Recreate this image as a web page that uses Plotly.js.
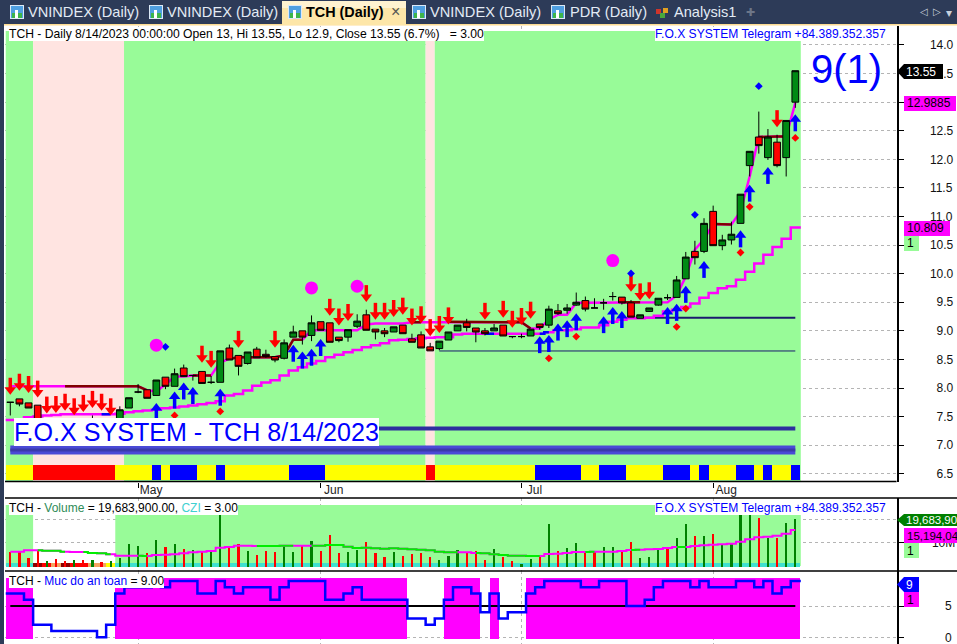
<!DOCTYPE html>
<html><head><meta charset="utf-8">
<script src="https://cdn.plot.ly/plotly-3.0.1.min.js"></script>
<style>html,body{margin:0;padding:0;background:#fff;overflow:hidden}#c{width:957px;height:644px}</style>
</head><body><div id="c"></div>
<script>
// ---------- data ----------
const monthTicks = [14, 34, 56, 77];
const monthLabels = ['May', 'Jun', 'Jul', 'Aug'];
const open = [7.75,7.81,7.74,7.70,7.42,7.40,7.38,7.40,7.42,7.44,7.42,7.40,7.42,7.65,7.93,7.97,7.87,8.19,8.03,8.35,8.22,8.29,8.10,8.10,8.70,8.57,8.43,8.68,8.59,8.55,8.52,8.89,9.00,8.92,9.16,9.14,8.89,8.89,9.08,9.28,9.03,9.00,8.98,9.10,8.86,8.93,8.72,8.69,8.84,9.00,9.14,9.05,9.00,9.00,9.10,8.90,8.90,8.91,9.12,9.10,9.35,9.36,9.45,9.53,9.40,9.49,9.60,9.59,9.49,9.22,9.34,9.45,9.58,9.585,9.91,10.39,10.39,11.09,10.49,10.59,10.88,11.89,12.39,12.03,12.30,12.03,13.0];
const high = [7.75,7.81,7.74,7.70,7.46,7.45,7.44,7.46,7.47,7.52,7.46,7.44,7.68,7.83,8.07,7.97,8.14,8.19,8.34,8.41,8.22,8.29,8.21,8.65,8.76,8.57,8.63,8.72,8.67,8.55,8.85,9.09,9.00,9.27,9.16,9.14,8.89,9.02,9.29,9.37,9.03,9.05,9.07,9.10,8.95,8.99,8.79,8.82,8.98,9.10,9.21,9.05,9.05,9.12,9.10,8.90,8.95,9.03,9.12,9.44,9.47,9.47,9.67,9.60,9.57,9.56,9.68,9.59,9.54,9.28,9.40,9.57,9.64,9.96,10.38,10.575,10.97,11.19,10.68,10.91,11.39,12.14,12.835,12.53,12.43,12.68,13.55];
const low = [7.52,7.68,7.65,7.38,7.30,7.32,7.30,7.32,7.34,7.36,7.33,7.34,7.40,7.65,7.91,7.82,7.87,7.98,8.03,8.20,8.13,8.08,8.07,8.10,8.49,8.22,8.41,8.53,8.53,8.45,8.50,8.89,8.76,8.82,9.01,8.80,8.80,8.81,9.05,9.01,8.85,8.89,8.98,8.95,8.80,8.70,8.65,8.66,8.84,9.00,8.99,8.80,8.92,9.00,8.91,8.87,8.87,8.91,9.02,9.05,9.28,9.30,9.44,9.34,9.40,9.37,9.53,9.46,9.24,9.22,9.33,9.44,9.54,9.585,9.91,10.16,10.36,10.49,10.41,10.51,10.88,11.70,12.10,11.99,11.86,11.70,12.9];
const close = [7.75,7.72,7.65,7.42,7.35,7.36,7.34,7.36,7.38,7.40,7.36,7.38,7.62,7.83,7.93,7.82,8.14,8.03,8.25,8.20,8.22,8.08,8.10,8.65,8.49,8.38,8.63,8.53,8.55,8.49,8.79,8.98,8.89,9.14,9.01,8.80,8.83,9.02,9.17,9.01,8.98,8.95,9.07,8.95,8.80,8.70,8.65,8.82,8.98,9.10,9.06,8.98,8.95,9.05,8.91,8.90,8.90,9.03,9.06,9.38,9.30,9.40,9.50,9.38,9.40,9.49,9.60,9.49,9.24,9.28,9.40,9.57,9.58,9.89,10.29,10.28,10.88,10.49,10.59,10.69,11.39,12.14,12.24,12.39,11.89,12.68,13.55];
const upperLine = [8.03,8.03,8.03,8.03,8.03,8.03,8.03,8.03,8.03,8.03,8.03,8.03,8.03,8.03,8.03,7.96,7.94,8.06,8.20,8.20,8.22,8.22,8.22,8.45,8.51,8.54,8.54,8.54,8.54,8.54,8.57,8.846,8.846,9.01,9.01,9.01,9.01,9.01,9.01,9.11,9.13,9.13,9.13,9.13,9.15,9.15,9.16,9.16,9.16,9.16,9.16,9.16,9.16,9.16,9.16,9.16,9.15,9.04,9.04,9.2,9.28,9.28,9.49,9.49,9.49,9.49,9.49,9.50,9.50,9.50,9.50,9.50,9.50,9.62,9.95,10.42,10.6,10.87,10.86,10.86,11.09,11.70,12.39,12.40,12.40,12.40,12.9885];
const upperBrown = [[6,15],[20,22],[24,30],[31,32],[44,45],[48,57],[67,69],[77,79],[82,85]];
const lowerLine = [7.44,7.44,7.49,7.50,7.52,7.53,7.54,7.54,7.54,7.54,7.54,7.54,7.55,7.577,7.594,7.606,7.62,7.646,7.658,7.676,7.693,7.716,7.74,7.77,7.87,7.897,7.955,8.04,8.095,8.136,8.217,8.305,8.363,8.427,8.474,8.54,8.58,8.625,8.666,8.712,8.747,8.782,8.835,8.846,8.858,8.87,8.88,8.887,8.887,8.934,8.951,8.951,8.951,8.951,8.951,8.951,8.951,8.951,8.951,8.974,9.01,9.01,9.027,9.06,9.06,9.097,9.16,9.196,9.219,9.22,9.23,9.265,9.34,9.37,9.417,9.48,9.58,9.66,9.743,9.778,9.894,10.034,10.18,10.33,10.465,10.61,10.809];
const lowerBlue = [[10,11],[52,53],[58,59]];
const sellIdx = [0,1,2,3,4,5,6,7,8,9,10,11,21,22,25,29,35,36,37,39,40,41,42,43,44,45,46,47,48,52,54,55,56,57,68,69,70,84];
const sellVal = [7.97,8.04,8.00,7.92,7.64,7.65,7.69,7.61,7.67,7.74,7.69,7.61,8.53,8.44,8.79,8.79,9.35,9.18,9.26,9.59,9.28,9.28,9.33,9.37,9.18,9.22,8.995,9.05,9.20,9.28,9.315,9.14,9.19,9.30,9.77,9.62,9.64,12.65];
const buyIdx = [16,18,19,20,23,31,32,33,34,58,59,60,61,62,65,66,67,72,73,74,76,80,81,83,86];
const buyVal = [7.65,7.85,8.01,7.93,7.90,8.67,8.55,8.60,8.77,8.82,8.84,9.04,9.10,9.22,9.17,9.33,9.26,9.33,9.385,9.70,10.136,10.67,11.47,11.78,12.70];
const redDotIdx = [18,23,59,62,73,74,80,81,86];
const redDotVal = [7.52,7.59,8.52,8.90,9.07,9.39,10.37,11.17,12.375];
const blueDotIdx = [17,68,75,82];
const blueDotVal = [8.72,10.005,11.03,13.28];
const pinkDotIdx = [16,33,38,66];
const pinkDotVal = [8.75,9.75,9.78,10.23];
const zoneStart = [-0.5,2.5,12.46,45.5,46.5];
const zoneEnd = [2.5,12.46,45.5,46.5,86.6];
const zoneKind = ['g','p','g','p','g'];
const ribbon = ('yyyrrrrrrr'+'rryyyybybb'+'byybyyyyyy'+'ybbbbyyyyy'+'yyyyyyryyy'+'yyyyyyyybb'+'bbbyybbbyy'+'yybbbybyyy'+'bbybyyb').split('');
const volume = [6.2,6.2,3.4,6.9,2.3,3.1,2.4,2.6,2.9,2.7,1.7,2.3,3.7,9.2,8.5,5.5,10.9,8.1,9.2,7.3,6.7,6.5,6.7,21.5,7.9,9.2,6.5,4.8,6.5,6.0,9.0,6.0,8.4,10.6,6.5,13.1,5.6,6.0,6.9,10.2,5.6,4.0,6.0,4.4,5.2,5.6,4.0,2.7,4.4,6.9,5.8,6.5,2.7,7.3,4.0,2.3,0.9,3.1,4.1,17.7,6.5,7.7,9.8,6.5,6.5,8.1,8.1,6.5,10.2,3.55,4.0,7.3,8.1,11.9,17.7,12.7,12.7,13.5,9.4,9.8,21.5,21.5,20.2,11.9,11.9,18.1,19.68];
const volDir = ('rrrrgrrgrg'+'rggggrgrgr'+'grggrrgrrr'+'ggrgrrrggr'+'rrgrrrrggg'+'rrrgrrggrg'+'rggrrggrrg'+'ggrggrgrgg'+'ggrgrgg').split('');
const volMA = [6.19,6.19,6.74,6.74,6.6,6.6,6.19,6.05,6.05,5.63,5.49,5.08,4.52,4.52,4.52,4.38,4.8,4.94,5.08,5.49,5.91,6.19,6.47,7.86,8.13,8.69,8.69,8.55,8.55,8.55,8.69,8.69,8.69,8.69,8.69,8.97,8.97,8.27,7.72,7.86,7.58,7.44,7.58,7.44,7.16,7.02,6.74,6.19,5.91,5.91,5.91,5.63,5.49,5.08,4.8,4.52,4.52,4.38,4.38,5.22,5.36,5.63,6.05,6.05,6.19,6.19,6.19,6.47,6.88,7.02,7.16,7.3,7.72,8.13,8.13,8.55,8.83,9.11,9.24,9.52,10.36,11.33,12.16,12.44,12.86,13.69,15.19];
const volMAGreen = [[3,6],[8,11],[14,15],[27,29],[30,31],[33,34],[35,38],[39,41],[42,49],[51,52],[53,58],[63,64],[68,69],[73,74]];
const czi = ('ttt'+'DROD'+'RROOY').split('').concat(new Array(75).fill('t'));
const safety = [7,7,6,2,2,1,1,1,1,1,0,2,7,8,8,8,9,8,9,9,9,7,7,9,8,7,8,8,8,6,8,9,9,9,9,6,6,7,8,6,6,6,6,6,3,3,2,3,6,8,8,7,4,7,3,4,4,7,8,9,9,9,9,8,8,9,9,9,5,5,6,8,9,9,9,8,9,8,8,8,9,9,8,9,7,8,9];
const idx = open.map((_, i) => i);
// the step lines run the full width of each bar's slot, edge to edge
const slotX = [-0.5].concat(idx, [86.6]);
const slotY = a => [a[0]].concat(a, [a[a.length-1]]);

// ---------- colours ----------
const GREENBG='#98FB98', PINKBG='#FFE4E1', MAG='#ff00ff', BROWN='#800000', BLUE='#0000ff', NAVY='#1a1a6e';
const ribbonColor={y:'#ffff00',r:'#ff0000',b:'#0000ff'};
const cziColor={t:'#40E0D0',D:'#8B0000',R:'#ff0000',O:'#F4A460',Y:'#ffff00'};
const FONT='"Liberation Sans", Arial, sans-serif';

// ---------- layout helpers (window pixels to paper) ----------
const L=5,T=26,W=892,H=618;
const fx=p=>(p-L)/W, fy=p=>1-(p-T)/H;
const shapes=[], annos=[];
const rect=(x0,y0,x1,y1,c)=>shapes.push({type:'rect',xref:'paper',yref:'paper',layer:'above',x0:fx(x0),x1:fx(x1),y0:fy(y0),y1:fy(y1),fillcolor:c,line:{width:0}});
const hline=(x0,x1,y,c,w)=>shapes.push({type:'line',xref:'paper',yref:'paper',layer:'above',x0:fx(x0),x1:fx(x1),y0:fy(y),y1:fy(y),line:{color:c,width:w}});
const label=(x,y,text,o={})=>annos.push(Object.assign({xref:'paper',yref:'paper',x:fx(x),y:fy(y),text,showarrow:false,xanchor:'left',yanchor:'middle',borderpad:0,borderwidth:0,font:{family:FONT,size:o.size||12,color:o.color||'#000',weight:o.weight||'normal'}},o.bg?{bgcolor:o.bg}:{},o.anchor?{xanchor:o.anchor}:{}));
const tag=(x0,x1,y0,y1,c,text,tc,pointed,size)=>{
  if(pointed){
    const ym=(y0+y1)/2, xh=x0+7;
    shapes.push({type:'path',xref:'paper',yref:'paper',layer:'above',path:`M${fx(x0)},${fy(ym)}L${fx(xh)},${fy(y0)}L${fx(x1)},${fy(y0)}L${fx(x1)},${fy(y1)}L${fx(xh)},${fy(y1)}Z`,fillcolor:c,line:{width:0}});
  } else rect(x0,y0,x1,y1,c);
  label(pointed?x0+9:x0+3,(y0+y1)/2,text,{color:tc,size:size||12});
};

// ---------- window chrome ----------
rect(0,0,957,24.5,'#2d3b58');
rect(0,0,4,644,'#2d3b58');
rect(4,24,957,25.5,'#fddc93');
rect(282,1,406,25,'#fde6a8');
rect(282,1,406,8,'#fff3d0');
const icon=(x)=>{rect(x,5,x+14,19,'#dce9f7');rect(x+1,6,x+13,18,'#4f9fe0');rect(x+2,13,x+12,18,'#3db54a');rect(x+5,10,x+8,18,'#ffffff');};
[10,149,288,412,551].forEach(icon);
const TABC='#e3ebf5';
[[28,'VNINDEX (Daily)'],[167,'VNINDEX (Daily)'],[430,'VNINDEX (Daily)'],[570,'PDR (Daily)'],[674,'Analysis1']].forEach(t=>label(t[0],12.5,t[1],{size:14.6,color:TABC}));
label(306,12.5,'TCH (Daily)',{size:14.4,color:'#000',weight:'bold'});
label(391,11.5,'×',{size:16,color:'#555'});
rect(656,9,661,14,'#d0352b');rect(663,8,668,13,'#e0a020');rect(660,13,665,18,'#48a83c');
label(746,12.5,'✚',{size:11,color:'#6d7688'});
label(920,12,'◁',{size:10,color:'#c8d0dc'});
label(933,12,'▷',{size:10,color:'#c8d0dc'});
label(946,13,'▾',{size:12,color:'#c8d0dc'});

// ---------- dividers ----------
hline(5,896.5,481.5,'#000',1.5);
hline(5,957,498,'#000',1.5);
hline(5,957,571,'#000',1.5);

// ---------- price pane backgrounds ----------
const bg=[];
zoneStart.forEach((s,k)=>bg.push({type:'rect',xref:'x',yref:'y',layer:'between',x0:s,x1:zoneEnd[k],y0:6.365,y1:14.245,fillcolor:zoneKind[k]==='g'?GREENBG:PINKBG,line:{width:0}}));
bg.push({type:'rect',xref:'x',yref:'y2',layer:'between',x0:-0.5,x1:2.5,y0:0.2,y1:25.6,fillcolor:GREENBG,line:{width:0}});
bg.push({type:'rect',xref:'x',yref:'y2',layer:'between',x0:11.5,x1:86.6,y0:0.2,y1:25.6,fillcolor:GREENBG,line:{width:0}});

// ---------- value tags ----------
tag(897,943,64,79,'#000','13.55','#fff',true);
tag(904,956,96,111,MAG,'12.9885','#000',false);
tag(904,950,221,236,MAG,'10.809','#000',false);
tag(904,919,236,251,GREENBG,'1','#000',false);
tag(897,957,514,526,'#008000','19,683,90','#fff',true,11.5);
tag(904,957,528,543,MAG,'15,194,04','#000',false,11.5);
tag(904,919,543,558,GREENBG,'1','#000',false);
tag(897,919,577,592,BLUE,'9','#fff',true);
tag(904,919,592,607,MAG,'1','#000',false);

// ---------- chart text ----------
label(9,33.5,'TCH - Daily 8/14/2023 00:00:00 Open 13, Hi 13.55, Lo 12.9, Close 13.55 (6.7%)\u00A0\u00A0 = 3.00',{bg:'#fff',size:12.15});
label(655,33.5,'F.O.X SYSTEM Telegram +84.389.352.357',{bg:'#fff',color:BLUE,size:12.1});
label(811,69,'9(1)',{size:40,color:BLUE});
label(14,432,'F.O.X SYSTEM - TCH 8/14/2023',{size:25.1,color:BLUE,bg:'#fff'});
label(9,508,'TCH - <span style="color:#2e8b57">Volume</span> = 19,683,900.00, <span style="color:#40d0d0">CZI</span> = 3.00',{bg:'#fff'});
label(655,508,'F.O.X SYSTEM Telegram +84.389.352.357',{bg:'#fff',color:BLUE,size:12.1});
label(9,581,'TCH - <span style="color:#0000ff">Muc do an toan</span> = 9.00',{bg:'#fff'});

// ---------- traces ----------
const seg=(arr,ranges)=>arr.map((v,i)=>ranges.some(r=>i>=r[0]&&i<=r[1])?v:null);
const traces=[];
const P={xaxis:'x',yaxis:'y',hoverinfo:'skip',showlegend:false};
const line=(y,c,w,shape,x,yaxis)=>({...P,type:'scatter',mode:'lines',x:x||idx,y,yaxis:yaxis||'y',connectgaps:false,line:{color:c,width:w,shape:shape||'linear'}});
// bottom ribbon
traces.push({...P,type:'bar',x:idx,y:idx.map(()=>0.26),base:idx.map(()=>6.40),width:1,marker:{color:ribbon.map(k=>ribbonColor[k]),line:{width:0}}});
// level lines
const bandX=[0,86], thickX=[1,86], lvlAX=[68,86], lvlBX=[47,86];
traces.push(line([6.915,6.915],'#4a4ad6',9,'linear',bandX));
traces.push(line([6.915,6.915],'#3a3aaa',3,'linear',bandX));
traces.push(line([7.29,7.29],'#2e2e9e',4,'linear',thickX));
traces.push(line([9.23,9.23],NAVY,2,'linear',lvlAX));
traces.push(line([8.648,8.648],NAVY,1,'linear',lvlBX));
// trend lines
traces.push(line(slotY(lowerLine),MAG,2.5,'hvh',slotX));
traces.push(line(seg(lowerLine,lowerBlue),BLUE,2.5,'hvh'));
traces.push(line(upperLine,MAG,2.5));
traces.push(line(seg(upperLine,upperBrown),BROWN,2.5));
// candles, above the lines
traces.push({...P,type:'candlestick',yaxis:'y4',x:idx,open,high,low,close,
  increasing:{line:{color:'#000',width:1},fillcolor:'#008a14'},
  decreasing:{line:{color:'#000',width:1},fillcolor:'#ff0000'}});
// signals
const mk=(x,y,m)=>({...P,type:'scatter',mode:'markers',yaxis:'y4',x,y,marker:m,cliponaxis:false});
traces.push(mk(sellIdx,sellVal,{symbol:'line-ns',size:10,angle:180,standoff:5,color:'#ff0000',line:{color:'#ff0000',width:3.5}}));
traces.push(mk(sellIdx,sellVal,{symbol:'triangle-down',size:10,color:'#ff0000',line:{width:0}}));
traces.push(mk(buyIdx,buyVal,{symbol:'line-ns',size:10,standoff:5,color:BLUE,line:{color:BLUE,width:3.5}}));
traces.push(mk(buyIdx,buyVal,{symbol:'triangle-up',size:10,color:BLUE,line:{width:0}}));
traces.push(mk(redDotIdx,redDotVal,{symbol:'diamond',size:6,color:'#ff0000',line:{width:0}}));
traces.push(mk(blueDotIdx,blueDotVal,{symbol:'diamond',size:6,color:BLUE,line:{width:0}}));
traces.push(mk(pinkDotIdx,pinkDotVal,{symbol:'circle',size:13,color:MAG,line:{width:0}}));
// volume pane
traces.push({...P,type:'bar',yaxis:'y2',x:idx,y:idx.map(()=>1.3),base:idx.map(()=>0),width:1,marker:{color:czi.map(k=>cziColor[k]),line:{width:0}}});
traces.push({...P,type:'bar',yaxis:'y2',x:idx,y:volume,width:0.24,marker:{color:volDir.map(k=>k==='g'?'#008000':'#ff0000'),line:{width:0}}});
traces.push(line(volMA,MAG,2,'hvh',idx,'y2'));
traces.push(line(seg(volMA,volMAGreen),'#00ee00',2,'hvh',idx,'y2'));
// safety pane
traces.push({...P,type:'bar',yaxis:'y3',x:idx,y:safety.map(v=>v>=5?9.69:0),base:idx.map(()=>-0.22),width:1,marker:{color:safety.map(v=>v>=5?MAG:'rgba(0,0,0,0)'),line:{width:0}}});
traces.push(line(idx.map(()=>5),'#000',2,'linear',idx,'y3'));
traces.push(line(slotY(safety),BLUE,2.5,'hvh',slotX,'y3'));

// ---------- axes ----------
const priceVals=[6.5,7,7.5,8,8.5,9,9.5,10,10.5,11,11.5,12,12.5,13,13.5,14];
const priceText=priceVals.map(v=>(v<10?'\u00A0\u00A0':'')+v.toFixed(1));
const axisBase={side:'right',anchor:'x',showline:true,linecolor:'#000',linewidth:1.5,ticks:'outside',ticklen:5,tickcolor:'#000',ticklabeloverflow:'allow',
  showgrid:true,griddash:'dot',gridcolor:'#b4b4b4',gridwidth:1,zeroline:false,fixedrange:true,tickfont:{family:FONT,size:12,color:'#111'}};
const layout={
  width:957,height:644,margin:{l:L,r:60,t:T,b:0,pad:0},
  paper_bgcolor:'#fff',plot_bgcolor:'#fff',showlegend:false,hovermode:false,barmode:'overlay',bargap:0,boxgap:0.26,boxgroupgap:0,dragmode:false,
  xaxis:{type:'linear',range:[-0.58,97.14],anchor:'y',rangeslider:{visible:false},tickmode:'array',tickvals:monthTicks,ticktext:monthLabels,
    ticks:'outside',ticklen:5,tickcolor:'#000',ticklabelshift:13,ticklabelstandoff:-8,tickfont:{family:FONT,size:12,color:'#222'},
    showgrid:true,griddash:'dot',gridcolor:'#b4b4b4',zeroline:false,showline:false,fixedrange:true},
  yaxis:{...axisBase,domain:[fy(481.5),1],range:[6.365,14.332],tickmode:'array',tickvals:priceVals,ticktext:priceText,ticklabelstandoff:24},
  yaxis4:{overlaying:'y',side:'right',anchor:'x',range:[6.365,14.332],visible:false,fixedrange:true},
  yaxis2:{...axisBase,domain:[fy(571),fy(498)],range:[-1.875,28.54],tickmode:'array',tickvals:[10,19.68],ticktext:['10M',''],ticklabelstandoff:26},
  yaxis3:{...axisBase,domain:[0,fy(571)],range:[-1.07,10.59],tickmode:'array',tickvals:[0,5],ticktext:['0','5'],ticklabelstandoff:39},
  shapes:bg.concat(shapes),annotations:annos
};
Plotly.newPlot('c',traces,layout,{displayModeBar:false,staticPlot:true});
</script></body></html>
